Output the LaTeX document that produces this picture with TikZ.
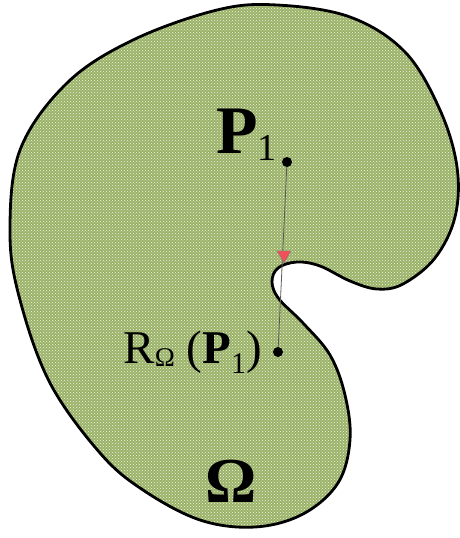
\documentclass[tikz,border=0pt]{standalone}
\usepackage{fontspec}
\setmainfont{Liberation Serif}
\usetikzlibrary{patterns,shapes.geometric}

\definecolor{regiongreen}{RGB}{154,178,104}
\definecolor{dotwhite}{RGB}{240,246,230}

\tikzset{
    pt/.style={circle, fill=black, inner sep=0pt, minimum size=10pt},
    lbl/.style={inner sep=0pt, text=black},
    marker/.style={regular polygon, regular polygon sides=3, shape border rotate=180,
        fill={rgb,255:red,240;green,80;blue,90}, draw=gray, line width=0.4pt,
        inner sep=0pt, minimum size=16pt}
}

\begin{document}
\begin{tikzpicture}[x=1pt, y=-1pt]

        \useasboundingbox (0,0) rectangle (459,538);

        % Region
        \path[fill=regiongreen] plot[smooth cycle, tension=0.6] coordinates {
            (277,5) (350,17) (405,52) (440,110) (457,167) (455,217) (435,258)
            (403,284) (377,289) (350,281) (320,266) (297,262) (278,268) (272,282)
            (279,299) (303,323) (330,355) (345,395) (350,440) (338,483) (303,514)
            (255,527) (200,520) (143,490) (100,453) (50,383) (20,300) (10,233)
            (20,150) (67,83) (133,40) (217,10)};
        \path[pattern=crosshatch dots, pattern color=dotwhite] plot[smooth cycle, tension=0.6] coordinates {
            (277,5) (350,17) (405,52) (440,110) (457,167) (455,217) (435,258)
            (403,284) (377,289) (350,281) (320,266) (297,262) (278,268) (272,282)
            (279,299) (303,323) (330,355) (345,395) (350,440) (338,483) (303,514)
            (255,527) (200,520) (143,490) (100,453) (50,383) (20,300) (10,233)
            (20,150) (67,83) (133,40) (217,10)};
        \draw[line width=2.8pt] plot[smooth cycle, tension=0.6] coordinates {
            (277,5) (350,17) (405,52) (440,110) (457,167) (455,217) (435,258)
            (403,284) (377,289) (350,281) (320,266) (297,262) (278,268) (272,282)
            (279,299) (303,323) (330,355) (345,395) (350,440) (338,483) (303,514)
            (255,527) (200,520) (143,490) (100,453) (50,383) (20,300) (10,233)
            (20,150) (67,83) (133,40) (217,10)};

        % Points
        \node[pt] (p1) at (287,162) {};
        \node[pt] (rp1) at (278,352) {};

        % Projection line
        \draw[gray!70!black, line width=0.8pt] (p1) -- (rp1);
        \node[marker] (hit) at (284,255) {};

        % Labels
        \node[lbl, anchor=base east] (p1lbl) at (277,153)
            {\fontsize{68}{68}\selectfont\textbf{P}\raisebox{-7pt}{\fontsize{38}{38}\selectfont 1}};
        \node[lbl, anchor=base east] (rlbl) at (262,363)
            {\fontsize{47}{47}\selectfont R\raisebox{-3pt}{\fontsize{27}{27}\selectfont Ω} (\textbf{P}\raisebox{-10pt}{\fontsize{30}{30}\selectfont 1})};
        \node[lbl, anchor=base] (omega) at (231,502)
            {\fontsize{64}{64}\selectfont\bfseries Ω};

        \end{tikzpicture}
\end{document}
